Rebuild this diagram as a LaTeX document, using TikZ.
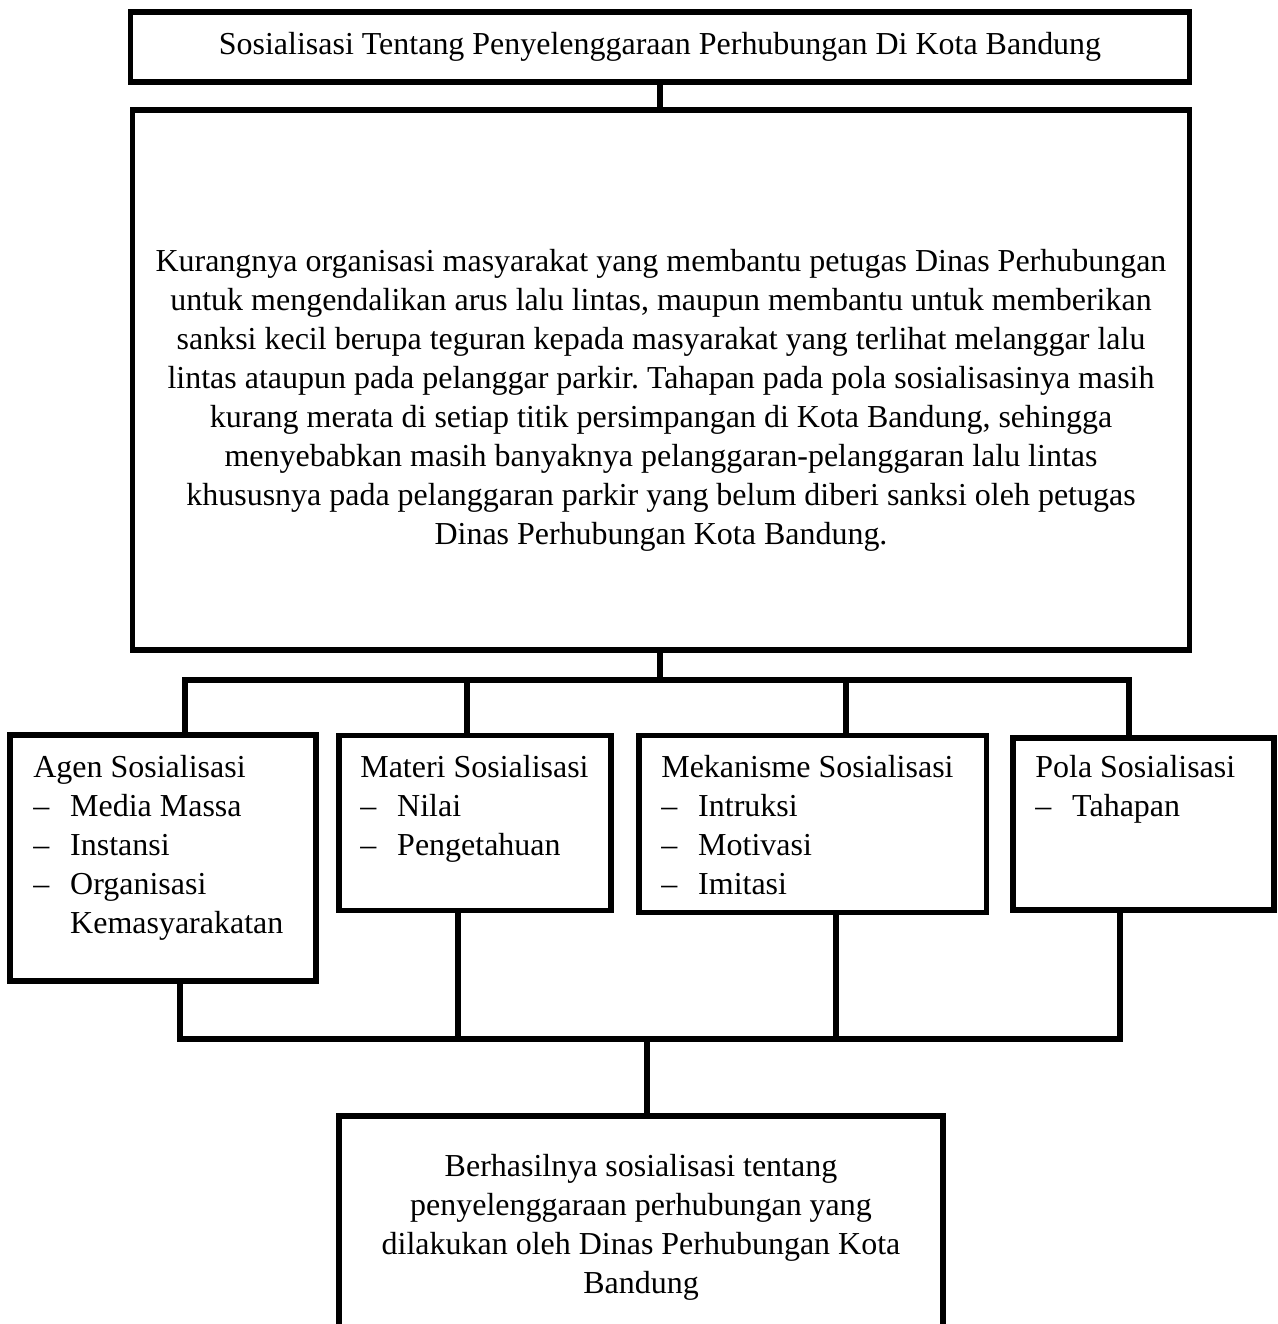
\documentclass[tikz,border=0pt]{standalone}
\usepackage{fontspec}
\setmainfont{Liberation Serif}
\usepackage{xcolor}
\usepackage{tikz}
\frenchspacing

\newcommand{\butir}[1]{\makebox[21pt][l]{\textendash}#1}
\newcommand{\lanjut}[1]{\hspace*{21pt}#1}

\begin{document}
\begin{tikzpicture}[x=0.02cm, y=-0.02cm,
    kotak/.style={draw, line width=3.2pt, inner sep=0pt},
    garis/.style={line width=3.2pt, line join=miter},
    isi/.style={font=\fontsize{18.2pt}{22.2pt}\selectfont, inner sep=0pt}]
    \useasboundingbox (0,0) rectangle (1277,1324);
    \node[kotak, isi, minimum width=21.18cm, minimum height=1.39cm] (judul) at (660,47)
      {Sosialisasi Tentang Penyelenggaraan Perhubungan Di Kota Bandung};
    \node[kotak, minimum width=21.15cm, minimum height=10.8cm] (masalah) at (661,380) {};
    \node[isi, align=center] (uraian) at (661,400)
      {Kurangnya organisasi masyarakat yang membantu petugas Dinas Perhubungan\\
       untuk mengendalikan arus lalu lintas, maupun membantu untuk memberikan\\
       sanksi kecil berupa teguran kepada masyarakat yang terlihat melanggar lalu\\
       lintas ataupun pada pelanggar parkir. Tahapan pada pola sosialisasinya masih\\
       kurang merata di setiap titik persimpangan di Kota Bandung, sehingga\\
       menyebabkan masih banyaknya pelanggaran-pelanggaran lalu lintas\\
       khususnya pada pelanggaran parkir yang belum diberi sanksi oleh petugas\\
       Dinas Perhubungan Kota Bandung.};
    \node[kotak, minimum width=6.12cm, minimum height=4.91cm] (agen) at (163,858) {};
    \node[kotak, minimum width=5.44cm, minimum height=3.5cm] (materi) at (475,823) {};
    \node[kotak, minimum width=6.95cm, minimum height=3.54cm] (mekanisme) at (812.7,824) {};
    \node[kotak, minimum width=5.22cm, minimum height=3.45cm] (pola) at (1143.5,824) {};
    \node[isi, anchor=base west] (agenisi) at (33,777)
      {\begin{tabular}[t]{@{}l@{}}Agen Sosialisasi\\ \butir{Media Massa}\\ \butir{Instansi}\\
       \butir{Organisasi}\\ \lanjut{Kemasyarakatan}\end{tabular}};
    \node[isi, anchor=base west] (materiisi) at (360,777)
      {\begin{tabular}[t]{@{}l@{}}Materi Sosialisasi\\ \butir{Nilai}\\ \butir{Pengetahuan}\end{tabular}};
    \node[isi, anchor=base west] (mekanismeisi) at (661,777)
      {\begin{tabular}[t]{@{}l@{}}Mekanisme Sosialisasi\\ \butir{Intruksi}\\ \butir{Motivasi}\\
       \butir{Imitasi}\end{tabular}};
    \node[isi, anchor=base west] (polaisi) at (1035,777)
      {\begin{tabular}[t]{@{}l@{}}Pola Sosialisasi\\ \butir{Tahapan}\end{tabular}};
    \node[kotak, isi, align=center, minimum width=12.08cm, minimum height=4.44cm] (hasil) at (641,1227)
      {Berhasilnya sosialisasi tentang\\ penyelenggaraan perhubungan yang\\
       dilakukan oleh Dinas Perhubungan Kota\\ Bandung};
    \coordinate (pusat) at (660,680);
    \coordinate (kiri) at (185,680);
    \coordinate (kanan) at (1129,680);
    \coordinate (bawahkiri) at (180,1039);
    \coordinate (bawahkanan) at (1120,1039);
    \coordinate (temu) at (647,1039);
    \draw[garis] (judul.south) -- (judul.south |- masalah.north);
    \draw[garis] (masalah.south -| pusat) -- (pusat);
    \draw[garis] (agen.north -| kiri) |- (kanan) -- (kanan |- pola.north);
    \foreach \x/\n in {467/materi, 846/mekanisme}
      {\draw[garis] (\x,680) -- (\n.north -| \x,680);}
    \draw[garis] (agen.south -| bawahkiri) |- (bawahkanan) -- (bawahkanan |- pola.south);
    \foreach \x/\n in {458/materi, 836/mekanisme}
      {\draw[garis] (\n.south -| \x,1039) -- (\x,1039);}
    \draw[garis] (temu) -- (hasil.north -| temu);
\end{tikzpicture}
\end{document}
